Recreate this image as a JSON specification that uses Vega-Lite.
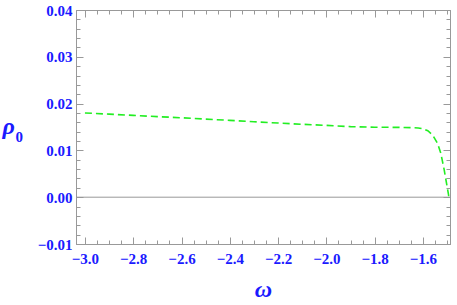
{
  "$schema": "https://vega.github.io/schema/vega-lite/v6.json",
  "width": 374,
  "height": 234,
  "autosize": "none",
  "padding": {"left": 76, "top": 10, "right": 7, "bottom": 61},
  "background": "white",
  "config": {
    "view": {"stroke": "#999999", "strokeWidth": 1},
    "axis": {"domainColor": "#999999", "tickColor": "#999999", "grid": false}
  },
  "datasets": {
    "curve": [
      {"w": -3.0, "rho": 0.0180},
      {"w": -2.9, "rho": 0.01775},
      {"w": -2.8, "rho": 0.01748},
      {"w": -2.7, "rho": 0.01722},
      {"w": -2.6, "rho": 0.01697},
      {"w": -2.5, "rho": 0.01668},
      {"w": -2.4, "rho": 0.01642},
      {"w": -2.3, "rho": 0.01612},
      {"w": -2.2, "rho": 0.01585},
      {"w": -2.1, "rho": 0.01558},
      {"w": -2.0, "rho": 0.01534},
      {"w": -1.9, "rho": 0.01508},
      {"w": -1.8, "rho": 0.01495},
      {"w": -1.7, "rho": 0.01492},
      {"w": -1.65, "rho": 0.01487},
      {"w": -1.62, "rho": 0.0148},
      {"w": -1.6, "rho": 0.01465},
      {"w": -1.58, "rho": 0.0142},
      {"w": -1.56, "rho": 0.01331},
      {"w": -1.54, "rho": 0.01154},
      {"w": -1.526, "rho": 0.0094},
      {"w": -1.512, "rho": 0.00583},
      {"w": -1.501, "rho": 0.0026},
      {"w": -1.494, "rho": 0.0005},
      {"w": -1.493, "rho": 0.0}
    ]
  },
  "layer": [
    {
      "data": {"name": "curve"},
      "mark": {"type": "line", "color": "#22ee22", "strokeWidth": 1.6, "strokeDash": [7, 4], "clip": true},
      "encoding": {
        "x": {
          "field": "w", "type": "quantitative",
          "scale": {"domain": [-3.037, -1.488], "nice": false, "zero": false},
          "axis": {
            "orient": "bottom",
            "title": "ω",
            "titleFont": "Liberation Serif",
            "titleFontWeight": "bold",
            "titleFontStyle": "italic",
            "titleColor": "#1a1aff",
            "titleFontSize": 24,
            "titleY": 52,
            "titleBaseline": "alphabetic",
            "labelFont": "Liberation Serif",
            "labelFontWeight": "bold",
            "labelColor": "#1a1aff",
            "labelFontSize": 15,
            "values": [-3.0, -2.95, -2.9, -2.85, -2.8, -2.75, -2.7, -2.65, -2.6, -2.55, -2.5, -2.45, -2.4, -2.35, -2.3, -2.25, -2.2, -2.15, -2.1, -2.05, -2.0, -1.95, -1.9, -1.85, -1.8, -1.75, -1.7, -1.65, -1.6, -1.55, -1.5],
            "labelExpr": "abs(datum.value*5 - round(datum.value*5)) < 0.000001 ? format(datum.value, '.1f') : ''",
            "tickSize": {"condition": {"test": "abs(datum.value*5 - round(datum.value*5)) < 0.000001", "value": -7}, "value": -4},
            "labelPadding": 14,
            "labelFlush": false,
            "labelOverlap": false
          }
        },
        "y": {
          "field": "rho", "type": "quantitative",
          "scale": {"domain": [-0.01, 0.04], "nice": false, "zero": false},
          "axis": {
            "orient": "left",
            "title": "ρ",
            "titleFont": "Liberation Serif",
            "titleFontWeight": "bold",
            "titleFontStyle": "italic",
            "titleColor": "#1a1aff",
            "titleFontSize": 24,
            "titleAngle": 0,
            "titleAlign": "left",
            "titleBaseline": "alphabetic",
            "titleX": -74,
            "titleY": 123,
            "labelFont": "Liberation Serif",
            "labelFontWeight": "bold",
            "labelColor": "#1a1aff",
            "labelFontSize": 15,
            "values": [-0.01, -0.008, -0.006, -0.004, -0.002, 0, 0.002, 0.004, 0.006, 0.008, 0.01, 0.012, 0.014, 0.016, 0.018, 0.02, 0.022, 0.024, 0.026, 0.028, 0.03, 0.032, 0.034, 0.036, 0.038, 0.04],
            "labelExpr": "abs(datum.value*100 - round(datum.value*100)) < 0.000001 ? format(datum.value, '.2f') : ''",
            "tickSize": {"condition": {"test": "abs(datum.value*100 - round(datum.value*100)) < 0.000001", "value": -7}, "value": -4},
            "labelPadding": 11,
            "labelFlush": false,
            "labelOverlap": false
          }
        }
      }
    },
    {
      "data": {"values": [{"y0": 0, "xa": -3.037, "xb": -1.488}]},
      "mark": {"type": "rule", "color": "#999999", "strokeWidth": 1},
      "encoding": {
        "x": {
          "field": "xa", "type": "quantitative",
          "scale": {"domain": [-3.037, -1.488], "nice": false, "zero": false},
          "axis": {
            "orient": "top",
            "title": null,
            "labels": false,
            "values": [-3.0, -2.95, -2.9, -2.85, -2.8, -2.75, -2.7, -2.65, -2.6, -2.55, -2.5, -2.45, -2.4, -2.35, -2.3, -2.25, -2.2, -2.15, -2.1, -2.05, -2.0, -1.95, -1.9, -1.85, -1.8, -1.75, -1.7, -1.65, -1.6, -1.55, -1.5],
            "tickSize": {"condition": {"test": "abs(datum.value*5 - round(datum.value*5)) < 0.000001", "value": -7}, "value": -4}
          }
        },
        "x2": {"field": "xb"},
        "y": {
          "field": "y0", "type": "quantitative",
          "scale": {"domain": [-0.01, 0.04], "nice": false, "zero": false},
          "axis": {
            "orient": "right",
            "title": null,
            "labels": false,
            "values": [-0.01, -0.008, -0.006, -0.004, -0.002, 0, 0.002, 0.004, 0.006, 0.008, 0.01, 0.012, 0.014, 0.016, 0.018, 0.02, 0.022, 0.024, 0.026, 0.028, 0.03, 0.032, 0.034, 0.036, 0.038, 0.04],
            "tickSize": {"condition": {"test": "abs(datum.value*100 - round(datum.value*100)) < 0.000001", "value": -7}, "value": -4}
          }
        }
      }
    },
    {
      "data": {"values": [{"y0": 0, "xa": -3.037}]},
      "mark": {"type": "point", "opacity": 0},
      "encoding": {
        "x": {
          "field": "xa", "type": "quantitative",
          "scale": {"domain": [-3.037, -1.488], "nice": false, "zero": false},
          "axis": null
        },
        "y": {
          "field": "y0", "type": "quantitative",
          "scale": {"domain": [-0.01, 0.04], "nice": false, "zero": false},
          "axis": {
            "orient": "left",
            "title": "0",
            "titleFont": "Liberation Serif",
            "titleFontWeight": "bold",
            "titleColor": "#1a1aff",
            "titleFontSize": 15,
            "titleAngle": 0,
            "titleAlign": "left",
            "titleBaseline": "alphabetic",
            "titleX": -61,
            "titleY": 131,
            "labels": false,
            "ticks": false,
            "domain": false
          }
        }
      }
    }
  ],
  "resolve": {"axis": {"x": "independent", "y": "independent"}}
}
